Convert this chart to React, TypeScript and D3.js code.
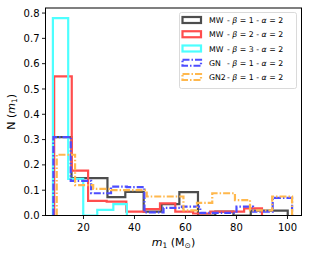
// Mass distribution histograms (step style) for MW / GN / GN2 models
import * as d3 from "d3";

// bin edges and normalised counts
const mwB1Edges = [8.2, 15.3, 22.3, 29.4, 36.4, 43.6, 50.6, 57.6, 64.9, 71.7, 78.8, 85.6, 92.9, 100.1];
const mwB1Vals = [0.31, 0.148, 0.148, 0.073, 0.093, 0.015, 0.045, 0.092, 0, 0.015, 0, 0.019, 0.019];

const mwB2Edges = [8.5, 15.4, 21.8, 29.1, 36.8, 44.1, 50.0, 56.0, 63.0, 69.7, 76.5, 83.0, 90.0];
const mwB2Vals = [0.55, 0.177, 0.058, 0.055, 0.015, 0.025, 0.048, 0.015, 0.008, 0.015, 0.015, 0.028];

const mwB3Edges = [8.0, 14.0, 19.9, 25.4, 31.7, 37.0];
const mwB3Vals = [0.78, 0.145, 0, 0.022, 0.045];

const gnEdges = [8.2, 15.0, 23.0, 30.8, 37.0, 43.9, 51.4, 58.6, 65.8, 72.5, 80.0, 86.5, 94.2, 101.8];
const gnVals = [0.31, 0.137, 0.088, 0.114, 0.112, 0.012, 0.03, 0.035, 0.01, 0.01, 0.035, 0.015, 0.07];

const gn2Edges = [9.5, 16.7, 23.8, 30.8, 37.9, 44.8, 52.0, 59.2, 64.5, 70.5, 79.4, 85.3, 94.0, 101.8];
const gn2Vals = [0.24, 0.12, 0.105, 0.1, 0.1, 0.075, 0.075, 0.02, 0.05, 0.088, 0.061, 0.02, 0.075];

const xTicks = [20, 40, 60, 80, 100];
const yTicks = [0, 0.1, 0.2, 0.3, 0.4, 0.5, 0.6, 0.7, 0.8];

const series = [
  { name: "MW", beta: 1, edges: mwB1Edges, vals: mwB1Vals, color: "#4d4d4d", dash: null },
  { name: "MW", beta: 2, edges: mwB2Edges, vals: mwB2Vals, color: "#ff4d4d", dash: null },
  { name: "MW", beta: 3, edges: mwB3Edges, vals: mwB3Vals, color: "#4dffff", dash: null },
  { name: "GN", beta: 1, edges: gnEdges, vals: gnVals, color: "#4d4dff", dash: "7,2,1.5,2" },
  { name: "GN2", beta: 1, edges: gn2Edges, vals: gn2Vals, color: "#ffb84d", dash: "7,2,1.5,2" },
];

const left = 45.5;
const right = 301.5;
const top = 8;
const bottom = 215.5;
const font = "DejaVu Sans, sans-serif";

export default function App() {
  const x = d3.scaleLinear().domain([5.1, 105.5]).range([left, right]);
  const y = d3.scaleLinear().domain([0, 0.82]).range([bottom, top]);

  // step outline: up at each edge, across each bin, down at the end
  const stepPath = (edges: number[], vals: number[]) => {
    const pts: [number, number][] = [[edges[0], 0]];
    vals.forEach((v, i) => {
      pts.push([edges[i], v]);
      pts.push([edges[i + 1], v]);
    });
    pts.push([edges[edges.length - 1], 0]);
    return d3.line().x((d) => x(d[0])).y((d) => y(d[1]))(pts) || "";
  };

  const rowY = (i: number) => 20 + i * 14.25;

  return (
    <svg
      width={310}
      height={254}
      style={{ position: "absolute", left: 0, top: 0, background: "#fff" }}
      fontFamily={font}
    >
      <defs>
        <clipPath id="plot">
          <rect x={left} y={top} width={right - left} height={bottom - top} />
        </clipPath>
      </defs>

      <g clipPath="url(#plot)">
        {series.map((s, i) => (
          <path
            key={i}
            d={stepPath(s.edges, s.vals)}
            fill="none"
            stroke={s.color}
            strokeWidth={2.2}
            strokeDasharray={s.dash || undefined}
            strokeLinejoin="miter"
          />
        ))}
      </g>

      {/* frame */}
      <rect x={left} y={top} width={right - left} height={bottom - top} fill="none" stroke="#000" strokeWidth={1} />

      {/* y axis */}
      {yTicks.map((t) => (
        <g key={t}>
          <line x1={left - 3.5} x2={left} y1={y(t)} y2={y(t)} stroke="#000" strokeWidth={0.9} />
          <text x={left - 6} y={y(t) + 3.6} textAnchor="end" fontSize={10} fill="#000">
            {d3.format(".1f")(t)}
          </text>
        </g>
      ))}

      {/* x axis */}
      {xTicks.map((t) => (
        <g key={t}>
          <line x1={x(t)} x2={x(t)} y1={bottom} y2={bottom + 3.5} stroke="#000" strokeWidth={0.9} />
          <text x={x(t)} y={bottom + 15.5} textAnchor="middle" fontSize={10} fill="#000">
            {t}
          </text>
        </g>
      ))}

      {/* axis labels */}
      <text x={(left + right) / 2} y={245.5} textAnchor="middle" fontSize={11} fill="#000">
        <tspan fontStyle="italic">m</tspan>
        <tspan fontSize={7.5} dy={2}>1</tspan>
        <tspan dy={-2}> (M</tspan>
        <tspan fontSize={7.5} dy={2}>⊙</tspan>
        <tspan dy={-2}>)</tspan>
      </text>
      <text
        transform={`translate(15, ${(top + bottom) / 2}) rotate(-90)`}
        textAnchor="middle"
        fontSize={11}
        fill="#000"
      >
        N (<tspan fontStyle="italic">m</tspan>
        <tspan fontSize={7.5} dy={2}>1</tspan>
        <tspan dy={-2}>)</tspan>
      </text>

      {/* legend */}
      <rect x={179.5} y={12.5} width={117} height={76} rx={2} fill="#fff" fillOpacity={0.8} stroke="#d0d0d0" strokeWidth={0.8} />
      {series.map((s, i) => (
        <g key={i}>
          <rect
            x={182.5}
            y={rowY(i) - 3}
            width={18.5}
            height={6}
            fill="none"
            stroke={s.color}
            strokeWidth={2.2}
            strokeDasharray={s.dash || undefined}
          />
          <text x={209} y={rowY(i) + 3} fontSize={7.8} fill="#000">
            {s.name}
          </text>
          <text x={227} y={rowY(i) + 3} fontSize={7.8} fill="#000">
            - <tspan fontStyle="italic">β</tspan> = {s.beta} - <tspan fontStyle="italic">α</tspan> = 2
          </text>
        </g>
      ))}
    </svg>
  );
}
